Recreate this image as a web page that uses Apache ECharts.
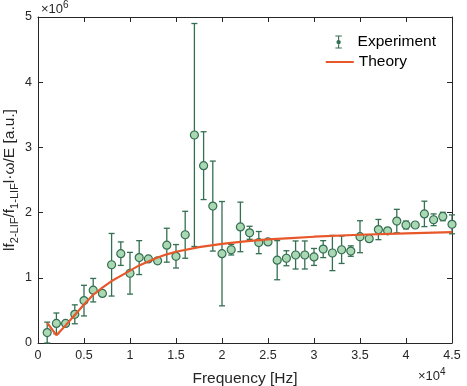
<!DOCTYPE html>
<html>
<head>
<meta charset="utf-8">
<script src="https://cdn.jsdelivr.net/npm/echarts@6/dist/echarts.min.js"></script>
<style>
  html, body { margin: 0; padding: 0; background: #fff; }
  #chart { width: 467px; height: 386px; }
</style>
</head>
<body>
<div id="chart"></div>
<script>
// frequencies [Hz]
const freq = [1000, 2000, 3000, 4000, 5000, 6000, 7000, 8000, 9000, 10000,
  11000, 12000, 13000, 14000, 15000, 16000, 17000, 18000, 19000, 20000,
  21000, 22000, 23000, 24000, 25000, 26000, 27000, 28000, 29000, 30000,
  31000, 32000, 33000, 34000, 35000, 36000, 37000, 38000, 39000, 40000,
  41000, 42000, 43000, 44000, 45000]
// measured signal [x1e6]
const expVal = [0.16, 0.30, 0.30, 0.44, 0.65, 0.81, 0.76, 1.20, 1.37, 1.07,
  1.31, 1.29, 1.26, 1.50, 1.33, 1.66, 3.19, 2.72, 2.10, 1.37,
  1.43, 1.78, 1.69, 1.54, 1.55, 1.27, 1.30, 1.35, 1.35, 1.32,
  1.44, 1.38, 1.43, 1.41, 1.63, 1.60, 1.74, 1.72, 1.87, 1.81,
  1.81, 1.98, 1.89, 1.94, 1.82]
// half error bar [x1e6]
const expErr = [0.16, 0.16, 0.03, 0.145, 0.235, 0.18, 0.04, 0.48, 0.18, 0.32,
  0.26, 0.03, 0.02, 0.26, 0.18, 0.36, 1.71, 0.52, 0.69, 0.80,
  0.08, 0.38, 0.10, 0.17, 0.03, 0.30, 0.115, 0.215, 0.215, 0.13,
  0.13, 0.27, 0.21, 0.08, 0.245, 0.03, 0.155, 0.03, 0.18, 0.06,
  0.03, 0.195, 0.09, 0.065, 0.145]
// theory curve
const thFreq = [1000, 2000, 3000, 4000, 5000, 6000, 7000, 8000, 9000, 10000,
  11000, 12000, 13000, 14000, 15000, 17500, 20000, 22500, 25000, 27500,
  30000, 35000, 40000, 45000]
const thVal = [0.31, 0.12, 0.27, 0.43, 0.59, 0.74, 0.85, 0.95, 1.03, 1.11,
  1.19, 1.25, 1.31, 1.36, 1.40, 1.47, 1.52, 1.56, 1.59, 1.61,
  1.63, 1.66, 1.68, 1.70]

const SCALE = 1e6
const GREEN = '#356f52'
const FILL = '#a9d8b2'
const ORANGE = '#e8572a'
const AXIS = '#262626'
const FONT = 'Liberation Sans, Arial, sans-serif'

const pts = freq.map((f, i) => [f, expVal[i] * SCALE])
const bars = freq.map((f, i) => [f, (expVal[i] - expErr[i]) * SCALE, (expVal[i] + expErr[i]) * SCALE])
const theory = thFreq.map((f, i) => [f, thVal[i] * SCALE])

const axisCommon = {
  axisLine: { show: true, onZero: false, lineStyle: { color: AXIS, width: 1 } },
  axisTick: { show: true, inside: true, length: 5, lineStyle: { color: AXIS } },
  splitLine: { show: false },
}

const chart = echarts.init(document.getElementById('chart'))
chart.setOption({
  animation: false,
  textStyle: { fontFamily: FONT },
  grid: { left: 38, right: 15, top: 17, bottom: 43, outerBoundsMode: 'none', containLabel: false },
  xAxis: [
    Object.assign({
      type: 'value', min: 0, max: 45000, interval: 5000,
      name: 'Frequency [Hz]', nameLocation: 'middle', nameGap: 28, nameMoveOverlap: false,
      nameTextStyle: { fontSize: 15.5, color: AXIS },
      axisLabel: { fontSize: 12.5, color: AXIS, margin: 6,
        formatter: v => String(v / 1e4) },
    }, axisCommon),
    Object.assign({
      type: 'value', min: 0, max: 45000, interval: 5000, position: 'top',
      axisLabel: { show: false },
    }, axisCommon),
  ],
  yAxis: [
    Object.assign({
      type: 'value', min: 0, max: 5e6, interval: 1e6,
      name: '{n|lf}{s|2-LIF}{n|/f}{s|1-LIF}{n|l·ω/E [a.u.]}',
      nameLocation: 'middle', nameGap: 18, nameRotate: 90, nameMoveOverlap: false,
      nameTextStyle: { rich: {
        n: { fontSize: 15.5, color: AXIS, fontFamily: FONT },
        s: { fontSize: 11, color: AXIS, fontFamily: FONT, padding: [10, 0, 0, 0] },
      } },
      axisLabel: { fontSize: 12.5, color: AXIS, margin: 6,
        formatter: v => String(v / 1e6) },
    }, axisCommon),
    Object.assign({
      type: 'value', min: 0, max: 5e6, interval: 1e6, position: 'right',
      axisLabel: { show: false },
    }, axisCommon),
  ],
  legend: [
    {
      right: 26, top: 29, itemWidth: 8, itemHeight: 13, itemGap: 4,
      data: [{ name: 'Experiment', icon: 'path://M0,0H6V1H3.5V4.2A2,2 0 1 1 2.5,4.2V1H0ZM2.5,7.8V11H0V12H6V11H3.5V7.8Z' }],
      textStyle: { fontSize: 15.5, color: '#000', padding: [0, 0, 0, 10] },
      itemStyle: { color: GREEN, borderWidth: 0 },
    },
    {
      right: 55, top: 49, itemWidth: 28, itemHeight: 2,
      data: [{ name: 'Theory', icon: 'rect' }],
      textStyle: { fontSize: 15.5, color: '#000' },
      itemStyle: { color: ORANGE },
    },
  ],
  graphic: [
    { type: 'text', left: 41, top: 0,
      style: { text: '×10{e|6}', fill: AXIS, fontSize: 13, fontFamily: FONT,
        rich: { e: { fontSize: 10, padding: [0, 0, 8, 0], fill: AXIS } } } },
    { type: 'text', left: 418, top: 367,
      style: { text: '×10{e|4}', fill: AXIS, fontSize: 13, fontFamily: FONT,
        rich: { e: { fontSize: 10, padding: [0, 0, 8, 0], fill: AXIS } } } },
  ],
  series: [
    {
      name: 'Experiment', type: 'custom', z: 3,
      data: bars,
      encode: { x: 0, y: [1, 2] },
      renderItem: (params, api) => {
        const lo = api.coord([api.value(0), api.value(1)])
        const hi = api.coord([api.value(0), api.value(2)])
        const w = 3
        const st = { stroke: GREEN, lineWidth: 1.3 }
        return { type: 'group', children: [
          { type: 'line', shape: { x1: lo[0], y1: lo[1], x2: hi[0], y2: hi[1] }, style: st },
          { type: 'line', shape: { x1: lo[0] - w, y1: lo[1], x2: lo[0] + w, y2: lo[1] }, style: st },
          { type: 'line', shape: { x1: hi[0] - w, y1: hi[1], x2: hi[0] + w, y2: hi[1] }, style: st },
        ] }
      },
    },
    {
      name: 'Experiment', type: 'scatter', z: 4,
      data: pts, symbol: 'circle', symbolSize: 8,
      itemStyle: { color: FILL, borderColor: GREEN, borderWidth: 1.2, opacity: 1 },
    },
    {
      name: 'Theory', type: 'line', z: 5,
      data: theory, showSymbol: false, smooth: false,
      lineStyle: { color: ORANGE, width: 2.2 },
      itemStyle: { color: ORANGE },
    },
  ],
})
</script>
</body>
</html>
